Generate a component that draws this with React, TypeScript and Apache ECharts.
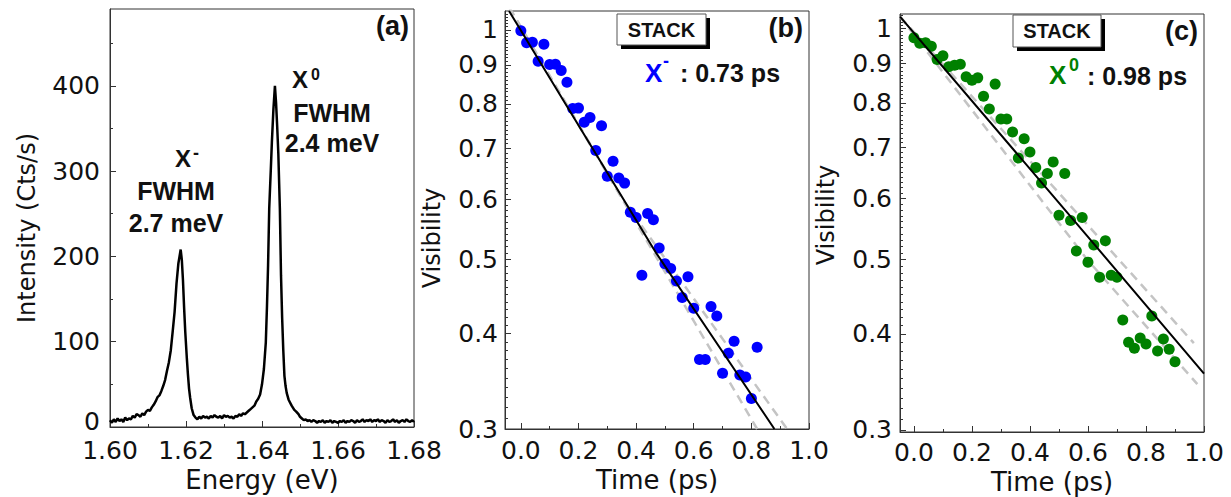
import { useEffect, useRef } from 'react';
import * as echarts from 'echarts';

// ---------- Panel (a): PL spectrum ----------
const spectrum: [number, number][] = [
  [1.6000, 8], [1.6005, 5], [1.6010, 9], [1.6015, 6], [1.6020, 10], [1.6025, 7], [1.6030, 9], [1.6035, 6],
  [1.6040, 11], [1.6045, 8], [1.6050, 10], [1.6055, 9], [1.6060, 13], [1.6065, 11], [1.6070, 15], [1.6075, 14],
  [1.6080, 12], [1.6085, 16], [1.6090, 14], [1.6095, 18], [1.6100, 20], [1.6105, 19],
  [1.6110, 23], [1.6115, 26], [1.6120, 30], [1.6125, 35], [1.6130, 37], [1.6135, 42], [1.6140, 48], [1.6145, 55],
  [1.6150, 66], [1.6155, 76], [1.6160, 90], [1.6165, 112], [1.6170, 135], [1.6175, 168], [1.6180, 192],
  [1.6183, 200], [1.6186, 208], [1.6189, 196], [1.6192, 172], [1.6195, 140], [1.6198, 112], [1.6202, 82],
  [1.6205, 62], [1.6208, 45], [1.6211, 34], [1.6215, 22], [1.6220, 14], [1.6225, 11], [1.6230, 9],
  [1.6235, 12], [1.6240, 10], [1.6245, 13], [1.6250, 11], [1.6255, 12], [1.6260, 10], [1.6265, 13], [1.6270, 11],
  [1.6275, 14], [1.6280, 12], [1.6285, 11], [1.6290, 13], [1.6295, 10], [1.6300, 14], [1.6305, 12], [1.6310, 13],
  [1.6315, 11], [1.6320, 12], [1.6325, 10], [1.6330, 13], [1.6335, 12], [1.6340, 15], [1.6345, 13], [1.6350, 16],
  [1.6355, 15], [1.6360, 17], [1.6365, 19], [1.6370, 21], [1.6375, 23], [1.6380, 25], [1.6385, 30], [1.6390, 33],
  [1.6395, 38], [1.6400, 50], [1.6405, 68], [1.6410, 99], [1.6413, 140], [1.6416, 190], [1.6419, 256],
  [1.6423, 300], [1.6426, 334], [1.6430, 372], [1.6434, 400], [1.6437, 380], [1.6440, 352], [1.6443, 320],
  [1.6447, 256], [1.6450, 178], [1.6453, 128], [1.6456, 90], [1.6459, 60], [1.6462, 48], [1.6465, 40],
  [1.6470, 32], [1.6478, 25], [1.6485, 20], [1.6490, 18], [1.6496, 15],
  [1.6500, 12], [1.6505, 10], [1.6510, 8], [1.6515, 9], [1.6520, 7], [1.6525, 8], [1.6530, 6], [1.6535, 8],
  [1.6540, 7], [1.6545, 5], [1.6550, 7], [1.6555, 6], [1.6560, 8], [1.6565, 5], [1.6570, 7], [1.6575, 6],
  [1.6580, 8], [1.6585, 5], [1.6590, 7], [1.6595, 6], [1.6600, 5], [1.6605, 7], [1.6610, 6], [1.6615, 8],
  [1.6620, 5], [1.6625, 7], [1.6630, 6], [1.6635, 8], [1.6640, 7], [1.6645, 5], [1.6650, 8], [1.6655, 6],
  [1.6660, 7], [1.6665, 9], [1.6670, 6], [1.6675, 8], [1.6680, 7], [1.6685, 9], [1.6690, 6], [1.6695, 8],
  [1.6700, 7], [1.6705, 9], [1.6710, 6], [1.6715, 8], [1.6720, 7], [1.6725, 5], [1.6730, 8], [1.6735, 6],
  [1.6740, 7], [1.6745, 9], [1.6750, 6], [1.6755, 8], [1.6760, 5], [1.6765, 7], [1.6770, 8], [1.6775, 6],
  [1.6780, 9], [1.6785, 7], [1.6790, 6], [1.6795, 8], [1.6800, 6],
];
const energyTicks = [1.6, 1.62, 1.64, 1.66, 1.68];
const energyMinor = [1.61, 1.63, 1.65, 1.67];
const intensityTicks = [0, 100, 200, 300, 400];
const intensityMinor = [50, 150, 250, 350, 450];

// ---------- Panel (b): X- visibility ----------
const timeB = [0.00, 0.02, 0.04, 0.06, 0.08, 0.10, 0.12, 0.14, 0.16, 0.18, 0.20, 0.22, 0.24, 0.26, 0.28, 0.30,
  0.32, 0.34, 0.36, 0.38, 0.40, 0.42, 0.44, 0.46, 0.48, 0.50, 0.52, 0.54, 0.56, 0.58, 0.60, 0.62, 0.64, 0.66,
  0.68, 0.70, 0.72, 0.74, 0.76, 0.78, 0.80, 0.82];
const visB = [0.998, 0.962, 0.964, 0.910, 0.958, 0.901, 0.902, 0.885, 0.854, 0.789, 0.790, 0.757, 0.768, 0.695,
  0.749, 0.643, 0.673, 0.640, 0.630, 0.577, 0.568, 0.477, 0.575, 0.564, 0.518, 0.494, 0.487, 0.469, 0.446, 0.475,
  0.432, 0.370, 0.370, 0.434, 0.422, 0.355, 0.377, 0.391, 0.353, 0.351, 0.329, 0.384];
const fitB: [number, number][] = [[-0.041, 1.059], [0.47, 0.51], [0.88, 0.3]];
const bandLowB: [number, number][] = [[-0.04, 1.07], [0.327, 0.623], [0.82, 0.3]];
const bandHighB: [number, number][] = [[-0.04, 1.07], [0.356, 0.598], [0.924, 0.3]];

// ---------- Panel (c): X0 visibility ----------
const timeC = [0.00, 0.02, 0.04, 0.06, 0.08, 0.10, 0.12, 0.14, 0.16, 0.18, 0.20, 0.22, 0.24, 0.26, 0.28, 0.30,
  0.32, 0.34, 0.36, 0.38, 0.40, 0.42, 0.44, 0.46, 0.48, 0.50, 0.52, 0.54, 0.56, 0.58, 0.60, 0.62, 0.64, 0.66,
  0.68, 0.70, 0.72, 0.74, 0.76, 0.78, 0.80, 0.82, 0.84, 0.86, 0.88, 0.90];
const visC = [0.972, 0.956, 0.958, 0.948, 0.911, 0.921, 0.891, 0.895, 0.898, 0.865, 0.856, 0.862, 0.816, 0.785,
  0.846, 0.762, 0.762, 0.733, 0.678, 0.718, 0.690, 0.659, 0.629, 0.647, 0.670, 0.571, 0.647, 0.562, 0.513, 0.567,
  0.496, 0.522, 0.474, 0.529, 0.477, 0.474, 0.417, 0.390, 0.383, 0.395, 0.388, 0.422, 0.380, 0.394, 0.382, 0.368];
const fitC: [number, number][] = [[-0.048, 1.036], [0.6, 0.535], [1.0, 0.355]];
const bandLowC: [number, number][] = [[-0.048, 1.036], [0.597, 0.5], [0.977, 0.344]];
const bandHighC: [number, number][] = [[-0.048, 1.036], [0.706, 0.5], [0.965, 0.389]];

const timeTicks = [0, 0.2, 0.4, 0.6, 0.8, 1.0];
const timeMinor = [0.1, 0.3, 0.5, 0.7, 0.9];
const visTicks = [0.3, 0.4, 0.5, 0.6, 0.7, 0.8, 0.9, 1];
const visMinor = [
  0.31, 0.32, 0.33, 0.34, 0.35, 0.36, 0.37, 0.38, 0.39,
  0.41, 0.42, 0.43, 0.44, 0.45, 0.46, 0.47, 0.48, 0.49,
  0.51, 0.52, 0.53, 0.54, 0.55, 0.56, 0.57, 0.58, 0.59,
  0.61, 0.62, 0.63, 0.64, 0.65, 0.66, 0.67, 0.68, 0.69,
  0.71, 0.72, 0.73, 0.74, 0.75, 0.76, 0.77, 0.78, 0.79,
  0.81, 0.82, 0.83, 0.84, 0.85, 0.86, 0.87, 0.88, 0.89,
  0.91, 0.92, 0.93, 0.94, 0.95, 0.96, 0.97, 0.98, 0.99,
  1.01, 1.02, 1.03, 1.04, 1.05,
];

const AX = '#333';
const AXFONT = 'DejaVu Sans';
const BOLD = 'Liberation Sans';

function majorAxis(opts: any) {
  return {
    type: opts.type || 'value',
    gridIndex: opts.grid,
    position: opts.position,
    min: opts.min,
    max: opts.max,
    name: opts.name,
    nameLocation: 'middle',
    nameGap: opts.nameGap,
    nameTextStyle: { fontFamily: AXFONT, fontSize: 26, color: '#111' },
    axisLine: { show: true, onZero: false, lineStyle: { color: AX, width: 1 } },
    axisTick: { show: true, inside: true, length: 6, customValues: opts.ticks, lineStyle: { color: AX, width: 1 } },
    axisLabel: {
      show: true,
      customValues: opts.ticks,
      formatter: opts.formatter,
      margin: opts.margin,
      fontFamily: AXFONT,
      fontSize: 25,
      lineHeight: 20,
      color: '#111',
      rich: {
        low: { fontFamily: AXFONT, fontSize: 25, color: '#111', lineHeight: 20, padding: [0, 0, 12, 0] },
      },
    },
    splitLine: { show: false },
    minorTick: { show: false },
  };
}

function minorAxis(opts: any) {
  return {
    type: opts.type || 'value',
    gridIndex: opts.grid,
    position: opts.position,
    min: opts.min,
    max: opts.max,
    axisLine: { show: false, onZero: false },
    axisTick: { show: true, inside: true, length: 3, customValues: opts.ticks, lineStyle: { color: AX, width: 1 } },
    axisLabel: { show: false },
    splitLine: { show: false },
    minorTick: { show: false },
  };
}

const fmt2 = (v: number) => Number(v).toFixed(2);
const fmt1 = (v: number) => Number(v).toFixed(1);
const fmtVis = (v: number) => (Math.abs(Number(v) - 1) < 1e-9 ? '1' : Number(v).toFixed(1));
// the zero label sits in the corner next to "1.60": lift it slightly like in the reference
const fmtInt = (v: number) => (Number(v) === 0 ? '{low|0}' : String(v));

function txt(text: string, x: number, y: number, size: number, align: string, color = '#111', family = BOLD, weight = 'bold', rotation = 0) {
  return {
    type: 'text',
    x,
    y,
    rotation,
    z: 100,
    style: { text, fill: color, font: `${weight} ${size}px "${family}"`, align, verticalAlign: 'middle' },
  };
}

function stackBox(x: number, y: number, w: number, h: number, cx: number, cy: number) {
  return [
    { type: 'rect', shape: { x: x + 4, y: y + 4, width: w, height: h }, style: { fill: '#000' }, z: 98 },
    { type: 'rect', shape: { x, y, width: w, height: h }, style: { fill: '#fff', stroke: '#555', lineWidth: 1 }, z: 99 },
    txt('STACK', cx, cy, 20, 'center'),
  ];
}

const grids = [
  { left: 110, top: 9, width: 304, height: 418 },
  { left: 505, top: 11, width: 304, height: 418 },
  { left: 900, top: 14, width: 304, height: 418 },
].map((g) => ({ ...g, show: true, borderColor: AX, borderWidth: 1, backgroundColor: 'transparent', containLabel: false, outerBoundsMode: 'none' }));

const xAxes = [
  majorAxis({ grid: 0, position: 'bottom', min: 1.6, max: 1.68, name: 'Energy (eV)', nameGap: 40, ticks: energyTicks, formatter: fmt2, margin: 13 }),
  minorAxis({ grid: 0, position: 'bottom', min: 1.6, max: 1.68, ticks: energyMinor }),
  majorAxis({ grid: 1, position: 'bottom', min: -0.055, max: 1.0, name: 'Time (ps)', nameGap: 37, ticks: timeTicks, formatter: fmt1, margin: 11 }),
  minorAxis({ grid: 1, position: 'bottom', min: -0.055, max: 1.0, ticks: timeMinor }),
  majorAxis({ grid: 2, position: 'bottom', min: -0.048, max: 1.0, name: 'Time (ps)', nameGap: 35, ticks: timeTicks, formatter: fmt1, margin: 10 }),
  minorAxis({ grid: 2, position: 'bottom', min: -0.048, max: 1.0, ticks: timeMinor }),
];

const yAxes = [
  majorAxis({ grid: 0, position: 'left', min: 0, max: 490, ticks: intensityTicks, formatter: fmtInt, margin: 10 }),
  minorAxis({ grid: 0, position: 'left', min: 0, max: 490, ticks: intensityMinor }),
  majorAxis({ type: 'log', grid: 1, position: 'left', min: 0.3, max: 1.059, ticks: visTicks, formatter: fmtVis, margin: 7 }),
  minorAxis({ type: 'log', grid: 1, position: 'left', min: 0.3, max: 1.059, ticks: visMinor }),
  majorAxis({ type: 'log', grid: 2, position: 'left', min: 0.298, max: 1.044, ticks: visTicks, formatter: fmtVis, margin: 8 }),
  minorAxis({ type: 'log', grid: 2, position: 'left', min: 0.298, max: 1.044, ticks: visMinor }),
];

const band = (data: [number, number][], xi: number, yi: number) => ({
  type: 'line', xAxisIndex: xi, yAxisIndex: yi, data, showSymbol: false, symbol: 'none', silent: true, z: 2,
  lineStyle: { color: '#c4c4c4', width: 2.5, type: [9, 6] },
});
const fitLine = (data: [number, number][], xi: number, yi: number) => ({
  type: 'line', xAxisIndex: xi, yAxisIndex: yi, data, showSymbol: false, symbol: 'none', silent: true, z: 5,
  lineStyle: { color: '#000', width: 2 },
});

const series = [
  {
    type: 'line', xAxisIndex: 0, yAxisIndex: 0, data: spectrum, showSymbol: false, symbol: 'none', silent: true,
    lineStyle: { color: '#000', width: 2.5 },
  },
  band(bandLowB, 2, 2),
  band(bandHighB, 2, 2),
  {
    type: 'scatter', xAxisIndex: 2, yAxisIndex: 2, data: timeB.map((t, i) => [t, visB[i]]), symbol: 'circle',
    symbolSize: 11, itemStyle: { color: '#0000ff', opacity: 1 }, z: 3, silent: true,
  },
  fitLine(fitB, 2, 2),
  band(bandLowC, 4, 4),
  band(bandHighC, 4, 4),
  {
    type: 'scatter', xAxisIndex: 4, yAxisIndex: 4, data: timeC.map((t, i) => [t, visC[i]]), symbol: 'circle',
    symbolSize: 11, itemStyle: { color: '#008000', opacity: 1 }, z: 3, silent: true,
  },
  fitLine(fitC, 4, 4),
];

const graphic = [
  // y-axis titles
  txt('Intensity (Cts/s)', 27, 228, 24, 'center', '#111', AXFONT, 'normal', Math.PI / 2),
  txt('Visibility', 432, 238, 24, 'center', '#111', AXFONT, 'normal', Math.PI / 2),
  txt('Visibility', 826, 215, 24, 'center', '#111', AXFONT, 'normal', Math.PI / 2),
  // panel (a)
  txt('(a)', 409, 26, 27, 'right'),
  txt('X', 175, 158.5, 24, 'left'),
  txt('-', 193, 153, 18, 'left'),
  txt('FWHM', 176, 191, 25, 'center'),
  txt('2.7 meV', 176, 223, 25, 'center'),
  txt('X', 292, 79, 24, 'left'),
  txt('0', 311, 74, 16, 'left'),
  txt('FWHM', 332, 113, 25, 'center'),
  txt('2.4 meV', 332, 143, 25, 'center'),
  // panel (b)
  ...stackBox(617, 14, 89, 31, 661.5, 29.5),
  txt('(b)', 803, 28, 27, 'right'),
  txt('X', 645, 72.5, 26, 'left', '#0000ff'),
  txt('-', 663, 61, 18, 'left', '#0000ff'),
  txt(': 0.73 ps', 680, 73, 25, 'left'),
  // panel (c)
  ...stackBox(1013, 15, 88, 32, 1057, 30.5),
  txt('(c)', 1198, 31, 27, 'right'),
  txt('X', 1049, 75, 26, 'left', '#008000'),
  txt('0', 1069, 64.5, 18, 'left', '#008000'),
  txt(': 0.98 ps', 1087, 76, 25, 'left'),
];

const option: any = {
  animation: false,
  backgroundColor: '#fff',
  grid: grids,
  xAxis: xAxes,
  yAxis: yAxes,
  series,
  graphic,
};

export default function App() {
  const ref = useRef<HTMLDivElement>(null);
  useEffect(() => {
    if (!ref.current) return;
    const chart = echarts.init(ref.current, null, { renderer: 'svg' });
    chart.setOption(option);
    return () => chart.dispose();
  }, []);
  return (
    <div
      ref={ref}
      style={{ position: 'fixed', left: 0, top: 0, width: 1231, height: 497, background: '#fff' }}
    />
  );
}
